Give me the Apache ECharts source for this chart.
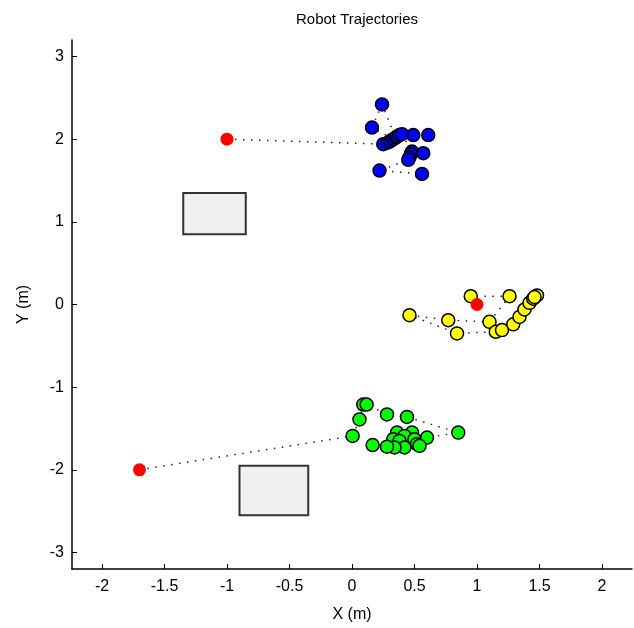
<!DOCTYPE html>
<html>
<head>
<meta charset="utf-8">
<script src="https://cdn.jsdelivr.net/npm/echarts@6/dist/echarts.min.js"></script>
<style>html,body{margin:0;padding:0;background:#fff}#c{width:634px;height:628px}</style>
</head>
<body>
<div id="c"></div>
<script>
// Tick labels
const xTicks = [-2, -1.5, -1, -0.5, 0, 0.5, 1, 1.5, 2];
const yTicks = [-3, -2, -1, 0, 1, 2, 3];

// Start positions (red)
const startX = [-1.0, 1.0, -1.7];
const startY = [2.0, 0.0, -2.0];

// Blue robot trajectory
const blueX = [-1.0, 0.25, 0.29, 0.31, 0.33, 0.16, 0.24, 0.35, 0.36, 0.38, 0.49, 0.61, 0.40, 0.48, 0.47, 0.57, 0.46, 0.45, 0.22, 0.56];
const blueY = [2.0, 1.94, 1.96, 1.98, 2.00, 2.14, 2.42, 2.02, 2.03, 2.05, 2.05, 2.05, 2.06, 1.85, 1.82, 1.83, 1.78, 1.75, 1.62, 1.58];

// Yellow robot trajectory
const yellowX = [1.0, 0.95, 1.26, 1.10, 0.77, 0.46, 0.84, 1.15, 1.20, 1.29, 1.34, 1.38, 1.42, 1.45, 1.48, 1.46];
const yellowY = [0.0, 0.10, 0.10, -0.21, -0.19, -0.13, -0.35, -0.33, -0.31, -0.24, -0.15, -0.06, 0.02, 0.07, 0.11, 0.09];

// Green robot trajectory
const greenX = [-1.7, 0.005, 0.06, 0.09, 0.117, 0.28, 0.44, 0.85, 0.60, 0.48, 0.36, 0.42, 0.33, 0.38, 0.50, 0.52, 0.54, 0.42, 0.34, 0.28, 0.165];
const greenY = [-2.0, -1.59, -1.39, -1.21, -1.21, -1.33, -1.36, -1.55, -1.61, -1.55, -1.55, -1.59, -1.63, -1.65, -1.63, -1.69, -1.71, -1.73, -1.73, -1.72, -1.70];

// Obstacles (rectangles): x0, x1, y0, y1
const obsX0 = [-1.35, -0.90];
const obsX1 = [-0.85, -0.35];
const obsY0 = [0.85, -2.55];
const obsY1 = [1.35, -1.95];

const zip = (xs, ys) => xs.map((x, i) => [x, ys[i]]);
const font = 'Liberation Sans';

function trajLine(xs, ys) {
  return {
    type: 'line', data: zip(xs, ys), showSymbol: false, symbol: 'none',
    lineStyle: { color: '#222', width: 1.5, type: [1.5, 6.5] }, z: 2, silent: true, animation: false
  };
}
function robotDots(xs, ys, color) {
  return {
    type: 'scatter', data: zip(xs.slice(1), ys.slice(1)), symbolSize: 13,
    itemStyle: { color: color, borderColor: '#000', borderWidth: 1.5, opacity: 1 }, z: 3, animation: false
  };
}

const chart = echarts.init(document.getElementById('c'), null, { renderer: 'canvas' });
chart.setOption({
  backgroundColor: '#fff',
  animation: false,
  title: {
    text: 'Robot Trajectories', left: 352, top: 7, textAlign: 'center',
    textStyle: { fontFamily: font, fontSize: 15, fontWeight: 'normal', color: '#000' }
  },
  grid: { left: 72, right: 2, top: 40, bottom: 56, containLabel: false },
  xAxis: {
    type: 'value', min: -2.24, max: 2.24,
    name: 'X (m)', nameLocation: 'middle', nameGap: 38,
    nameTextStyle: { fontFamily: font, fontSize: 16, color: '#000' },
    axisLine: { show: true, onZero: false, lineStyle: { color: '#000', width: 1.5 } },
    axisTick: { show: true, inside: true, length: 5, customValues: xTicks, lineStyle: { color: '#000' } },
    axisLabel: { customValues: xTicks, fontFamily: font, fontSize: 16, color: '#000', margin: 10 },
    splitLine: { show: false }
  },
  yAxis: {
    type: 'value', min: -3.2, max: 3.2,
    name: 'Y (m)', nameLocation: 'middle', nameGap: 40,
    nameTextStyle: { fontFamily: font, fontSize: 16, color: '#000' },
    axisLine: { show: true, onZero: false, lineStyle: { color: '#000', width: 1.5 } },
    axisTick: { show: true, inside: true, length: 5, customValues: yTicks, lineStyle: { color: '#000' } },
    axisLabel: { customValues: yTicks, fontFamily: font, fontSize: 16, color: '#000', margin: 8 },
    splitLine: { show: false }
  },
  series: [
    {
      type: 'custom', z: 1, animation: false,
      data: obsX0.map((x0, i) => [x0, obsX1[i], obsY0[i], obsY1[i]]),
      renderItem: function (params, api) {
        const p0 = api.coord([api.value(0), api.value(3)]);
        const p1 = api.coord([api.value(1), api.value(2)]);
        return {
          type: 'rect',
          shape: { x: p0[0], y: p0[1], width: p1[0] - p0[0], height: p1[1] - p0[1] },
          style: { fill: '#f0f0f0', stroke: '#333', lineWidth: 2 }
        };
      }
    },
    trajLine(blueX, blueY),
    trajLine(yellowX, yellowY),
    trajLine(greenX, greenY),
    robotDots(blueX, blueY, '#0000ff'),
    robotDots(yellowX, yellowY, '#ffff00'),
    robotDots(greenX, greenY, '#00ff00'),
    {
      type: 'scatter', data: zip(startX, startY), symbolSize: 13, z: 4, animation: false,
      itemStyle: { color: '#ff0000', borderWidth: 0, opacity: 1 }
    }
  ]
});
</script>
</body>
</html>
